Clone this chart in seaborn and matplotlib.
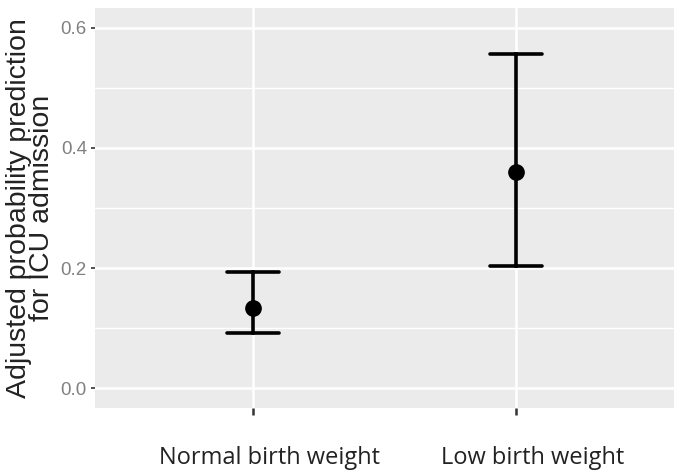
import pandas as pd
import numpy as np
import matplotlib.pyplot as plt
import matplotlib.transforms as mtransforms
import seaborn as sns

# Adjusted predicted probabilities (point estimate with 95% CI)
groups = ["Normal birth weight", "Low birth weight"]
estimate = [0.134, 0.360]
lower = [0.092, 0.203]
upper = [0.193, 0.556]

# long table: lower / estimate / upper per group -> median gives point, min/max gives interval
df = pd.DataFrame({
    "group": np.repeat(groups, 3),
    "prob": [v for trio in zip(lower, estimate, upper) for v in trio],
})

sns.set_theme(style="darkgrid")
plt.rcParams["font.family"] = ["Liberation Sans", "DejaVu Sans"]

fig = plt.figure(figsize=(6.85, 4.75), dpi=100)
ax = fig.add_axes([0.139, 0.141, 0.845, 0.842])
ax.set_facecolor("#EBEBEB")

sns.pointplot(
    data=df, x="group", y="prob", order=groups,
    estimator="median", errorbar=lambda v: (v.min(), v.max()),
    capsize=0.2, linestyle="none", color="black",
    markersize=10, err_kws={"linewidth": 2.6}, ax=ax,
)

ax.set_xlim(-0.6, 1.6)
ax.set_ylim(-0.033, 0.633)
ax.set_yticks([0.0, 0.2, 0.4, 0.6])
ax.set_yticklabels(["0.0", "0.2", "0.4", "0.6"])
ax.set_yticks([0.1, 0.3, 0.5], minor=True)

ax.grid(which="major", color="white", linewidth=1.8)
ax.grid(which="minor", axis="y", color="white", linewidth=1.0)
for s in ax.spines.values():
    s.set_visible(False)

ax.tick_params(axis="y", which="major", left=True, length=3, width=1.2, color="#333333",
               labelsize=13.5, labelcolor="#808080", pad=3)
ax.tick_params(axis="y", which="minor", length=0)
ax.tick_params(axis="x", bottom=True, length=5, width=1.8, color="#333333",
               labelsize=17, labelcolor="#222222", pad=22)
# category labels sit a little right of their ticks in the original
shift = mtransforms.ScaledTranslation(0.16, 0, fig.dpi_scale_trans)
for lbl in ax.get_xticklabels():
    lbl.set_family(["Open Sans", "DejaVu Sans"])
    lbl.set_transform(lbl.get_transform() + shift)

ax.set_xlabel("")
ax.set_ylabel("Adjusted probability prediction\nfor ICU admission",
              fontsize=20.5, color="#222222", labelpad=4, linespacing=0.85)

fig.savefig("out.png", dpi=100)
